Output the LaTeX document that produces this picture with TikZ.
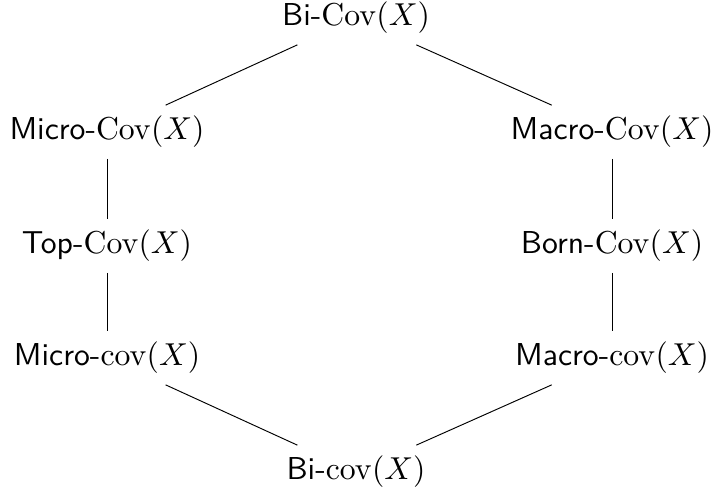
\documentclass[tikz,border=0pt]{standalone}
\begin{document}
\begin{tikzpicture}[x=0.0111cm, y=-0.0111cm, lbl/.style={inner sep=0.333em}, every path/.style={line width=0.3pt}]
\useasboundingbox (0,0) rectangle (711,495);
\node[lbl] (biC) at (356,18) {\textsf{Bi-}$\mathrm{Cov}(X)$};
\node[lbl] (miC) at (107,132) {\textsf{Micro-}$\mathrm{Cov}(X)$};
\node[lbl] (maC) at (612,132) {\textsf{Macro-}$\mathrm{Cov}(X)$};
\node[lbl] (top) at (107,246) {\textsf{Top-}$\mathrm{Cov}(X)$};
\node[lbl] (born) at (612,246) {\textsf{Born-}$\mathrm{Cov}(X)$};
\node[lbl] (mic) at (107,358) {\textsf{Micro-}$\mathrm{cov}(X)$};
\node[lbl] (mac) at (612,358) {\textsf{Macro-}$\mathrm{cov}(X)$};
\node[lbl] (bic) at (356,472) {\textsf{Bi-}$\mathrm{cov}(X)$};
\draw (biC) -- (miC);
\draw (biC) -- (maC);
\draw (miC) -- (top);
\draw (top) -- (mic);
\draw (maC) -- (born);
\draw (born) -- (mac);
\draw (mic) -- (bic);
\draw (mac) -- (bic);
\end{tikzpicture}
\end{document}
